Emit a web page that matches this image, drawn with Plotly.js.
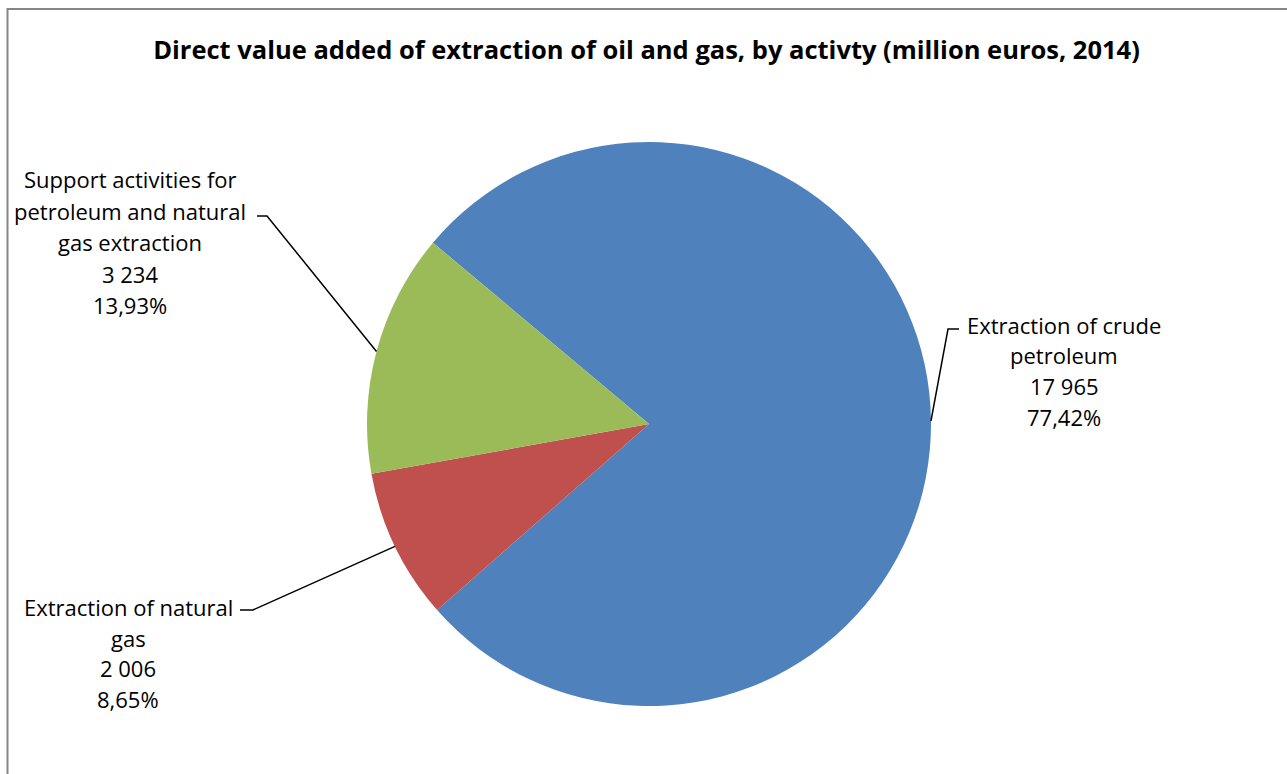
<!DOCTYPE html>
<html><head><meta charset="utf-8">
<script src="https://cdn.plot.ly/plotly-3.0.1.min.js"></script>
<style>body{margin:0;background:#fff}</style></head>
<body><div id="chart" style="width:1287px;height:774px"></div>
<script>
// ---- data ----
const categories = ["Extraction of crude petroleum", "Extraction of natural gas", "Support activities for petroleum and natural gas extraction"];
const labelLines = [["Extraction of crude", "petroleum"], ["Extraction of natural", "gas"], ["Support activities for", "petroleum and natural", "gas extraction"]];
const values = [17965, 2006, 3234];
const percentLabels = ["77,42%", "8,65%", "13,93%"];
const colors = ["#4F81BD", "#C0504D", "#9BBB59"];
const titleText = "Direct value added of extraction of oil and gas, by activty (million euros, 2014)";

// ---- layout geometry (pixels) ----
const W = 1287, H = 774;
const cx = 649, cy = 424, R = 282;
const rotationDeg = -50;
const labelPlace = [
  {x: 1064, y: 325, step: 30.5, elbow: [948, 329], tickEnd: 959},
  {x: 128, y: 607, step: 30.7, elbow: [253, 610], tickEnd: 240},
  {x: 130, y: 179, step: 31.5, elbow: [267, 216], tickEnd: 257}
];
const FONT = "'Open Sans', Lato, sans-serif";

const px = x => x / W, py = y => 1 - y / H;
const fmt = v => String(v).replace(/\B(?=(\d{3})+(?!\d))/g, " ");

const total = values.reduce((a, b) => a + b, 0);
let ang = rotationDeg;
const annotations = [], shapes = [];
values.forEach((v, i) => {
  const span = v / total * 360;
  const mid = (ang + span / 2) * Math.PI / 180;
  ang += span;
  const ex = cx + R * Math.sin(mid), ey = cy - R * Math.cos(mid);
  const p = labelPlace[i];
  shapes.push({type: "path", xref: "paper", yref: "paper",
    path: `M${px(ex)},${py(ey)} L${px(p.elbow[0])},${py(p.elbow[1])} L${px(p.tickEnd)},${py(p.elbow[1])}`,
    line: {color: "#000", width: 1.5}});
  const lines = labelLines[i].concat([fmt(v), percentLabels[i]]);
  lines.forEach((t, k) => annotations.push({
    xref: "paper", yref: "paper", x: px(p.x), y: py(p.y + k * p.step),
    xanchor: "center", yanchor: "middle", showarrow: false, text: t,
    font: {family: FONT, size: 22, color: "#000"}
  }));
});

// chart border (cropped at right and bottom)
shapes.push({type: "rect", xref: "paper", yref: "paper", x0: px(7.5), x1: 1.02, y0: -0.02, y1: py(9),
  line: {color: "#868686", width: 2}, fillcolor: "rgba(0,0,0,0)"});

const trace = {
  type: "pie", labels: categories, values: values, sort: false, direction: "clockwise",
  rotation: rotationDeg, textinfo: "none", hoverinfo: "none",
  marker: {colors: colors, line: {width: 0}},
  domain: {x: [px(cx - R), px(cx + R)], y: [py(cy + R), py(cy - R)]}
};

const layout = {
  width: W, height: H, margin: {l: 0, r: 0, t: 0, b: 0},
  paper_bgcolor: "#fff", showlegend: false,
  title: {text: "<b>" + titleText + "</b>", x: px(646.5), xref: "paper", xanchor: "center",
    y: py(50), yref: "paper", yanchor: "middle",
    font: {family: FONT, size: 25.5, color: "#000"}},
  annotations: annotations, shapes: shapes
};

Plotly.newPlot("chart", [trace], layout, {displayModeBar: false, staticPlot: true});
</script></body></html>
